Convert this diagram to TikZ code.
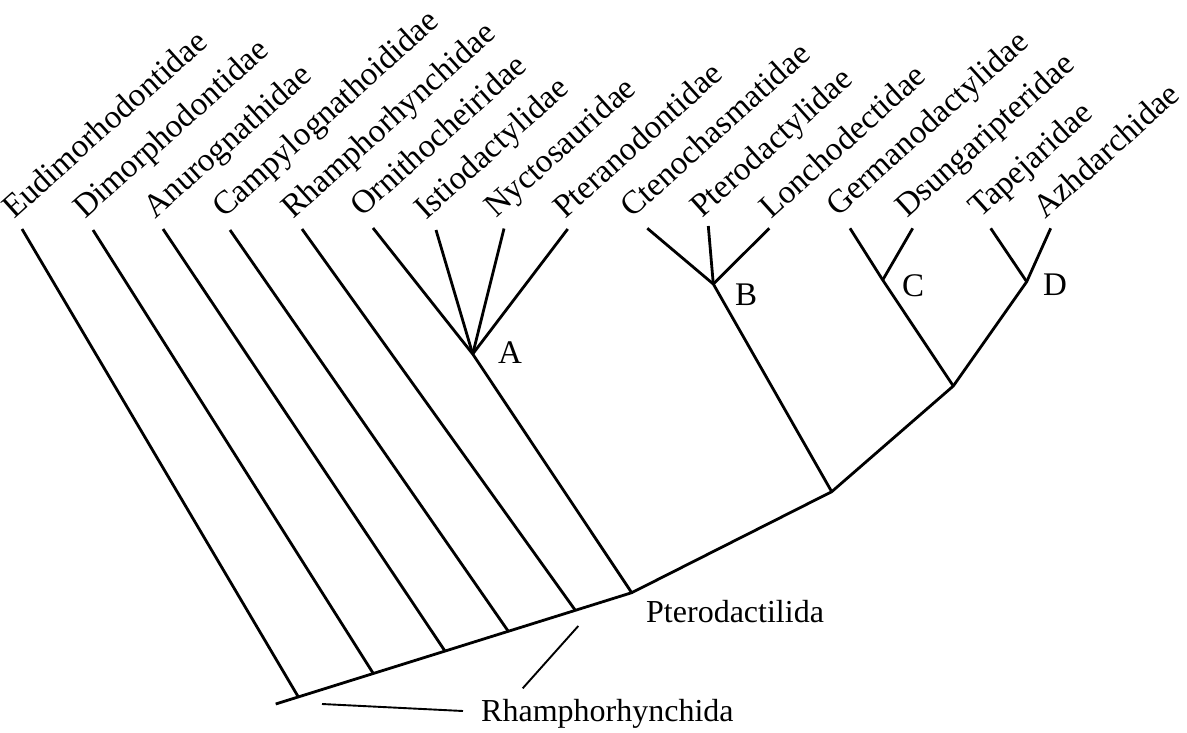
\documentclass[tikz,border=0pt]{standalone}
\usepackage{fontspec}
\setmainfont{Liberation Serif}
\newcommand\labfont{\fontsize{33}{39}\selectfont}
\newcommand\grpfont{\fontsize{32}{38}\selectfont}
\begin{document}
\begin{tikzpicture}[x=1pt,y=-1pt,
  br/.style={line width=2.8pt, line join=round},
  ptr/.style={line width=1.9pt},
  lab/.style={anchor=base west, rotate=42, inner sep=0pt, font=\labfont},
  txt/.style={inner sep=0pt, font=\labfont},
  grp/.style={inner sep=0pt, anchor=west, font=\grpfont}]
\fill[white] (0,0) rectangle (1187,732);
\useasboundingbox (0,0) rectangle (1187,732);
% base and joints
\coordinate (r0) at (275.7,704);
\coordinate (j1) at (298.3,696.9);
\coordinate (j2) at (373.3,673.5);
\coordinate (j3) at (445,651.1);
\coordinate (j4) at (508.3,631.3);
\coordinate (j5) at (575.3,610.3);
\coordinate (jP) at (631.7,592.7);
\coordinate (jB) at (831.7,491.7);
\coordinate (jCD) at (953.3,386);
\coordinate (nA) at (472.7,354);
\coordinate (nB) at (713.3,284);
\coordinate (nC) at (882.7,280);
\coordinate (nD) at (1026.7,281.7);
% tips
\coordinate (tEud) at (22,229);
\coordinate (tDim) at (93,230);
\coordinate (tAnu) at (163,229);
\coordinate (tCam) at (230,230);
\coordinate (tRha) at (302,229);
\coordinate (tOrn) at (373,228);
\coordinate (tIst) at (436,230);
\coordinate (tNyc) at (504,228.5);
\coordinate (tPtn) at (567.7,229);
\coordinate (tCte) at (647.3,228.3);
\coordinate (tPtd) at (708.3,226);
\coordinate (tLon) at (769.3,228.3);
\coordinate (tGer) at (850,228.3);
\coordinate (tDsu) at (912.7,228.3);
\coordinate (tTap) at (990.7,228.3);
\coordinate (tAzh) at (1050.7,228.3);
% labels
\node[lab] (lEud) at (14,220) {Eudimorhodontidae};
\node[lab] (lDim) at (85,220) {Dimorphodontidae};
\node[lab] (lAnu) at (155,220) {Anurognathidae};
\node[lab] (lCam) at (224,219) {Campylognathoididae};
\node[lab] (lRha) at (293,220) {Rhamphorhynchidae};
\node[lab] (lOrn) at (362,218) {Ornithocheiridae};
\node[lab] (lIst) at (426,221) {Istiodactylidae};
\node[lab] (lNyc) at (496,219) {Nyctosauridae};
\node[lab] (lPtn) at (565,220) {Pteranodontidae};
\node[lab] (lCte) at (632,219) {Ctenochasmatidae};
\node[lab] (lPtd) at (702,219) {Pterodactylidae};
\node[lab] (lLon) at (771,220) {Lonchodectidae};
\node[lab] (lGer) at (838,218) {Germanodactylidae};
\node[lab] (lDsu) at (907,219) {Dsungaripteridae};
\node[lab] (lTap) at (980,219) {Tapejaridae};
\node[lab] (lAzh) at (1045,220) {Azhdarchidae};
\node[txt] (lA) at (510,353) {A};
\node[txt] (lB) at (746,295) {B};
\node[txt] (lC) at (913,286) {C};
\node[txt] (lD) at (1055,285) {D};
\node[grp] (lPda) at (646,612) {Pterodactilida};
\node[grp] (lRhd) at (481,714) {Rhamphorhynchida};
% tree
\draw[br] (r0) -- (jP) -- (jB) -- (jCD) -- (nD) -- (tAzh);
\draw[br] (j1) -- (tEud);
\draw[br] (j2) -- (tDim);
\draw[br] (j3) -- (tAnu);
\draw[br] (j4) -- (tCam);
\draw[br] (j5) -- (tRha);
\draw[br] (jP) -- (nA) -- (tOrn);
\draw[br] (nA) -- (tIst);
\draw[br] (nA) -- (tNyc);
\draw[br] (nA) -- (tPtn);
\draw[br] (jB) -- (nB) -- (tCte);
\draw[br] (nB) -- (tPtd);
\draw[br] (nB) -- (tLon);
\draw[br] (jCD) -- (nC) -- (tGer);
\draw[br] (nC) -- (tDsu);
\draw[br] (nD) -- (tTap);
% pointers
\coordinate (p1a) at (578.3,626);
\coordinate (p1b) at (522.7,688.3);
\coordinate (p2a) at (322,704);
\coordinate (p2b) at (463,711);
\draw[ptr] (p1a) -- (p1b);
\draw[ptr] (p2a) -- (p2b);
\end{tikzpicture}
\end{document}
